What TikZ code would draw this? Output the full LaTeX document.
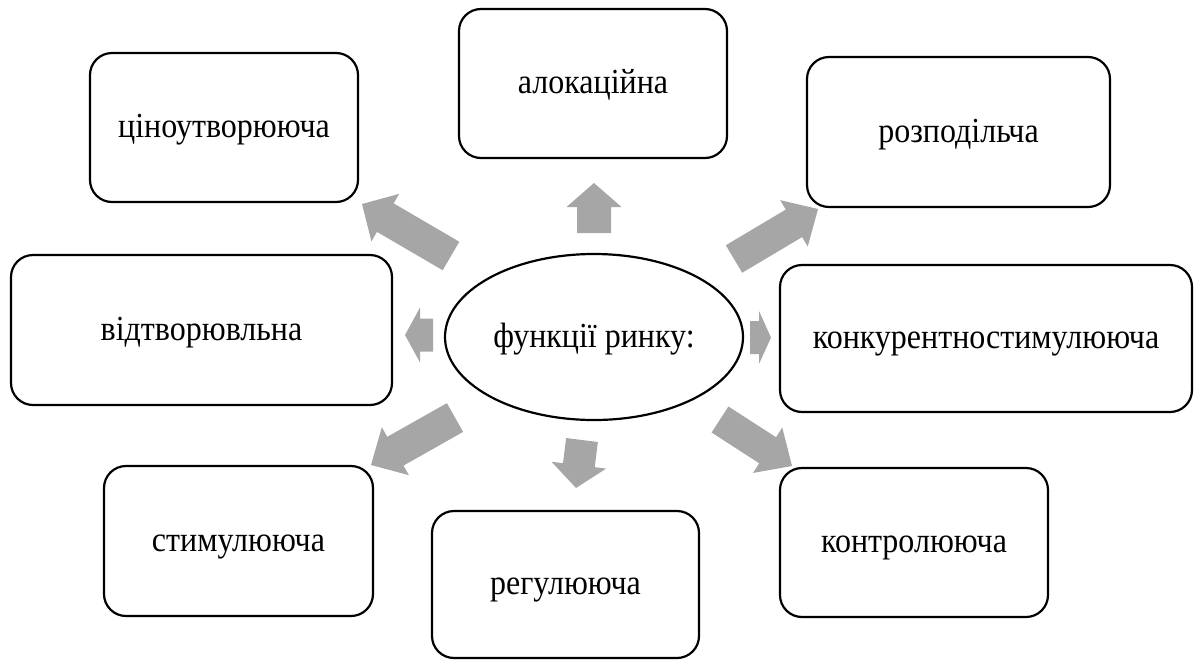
\documentclass[tikz,border=0pt]{standalone}
\usepackage{fontspec}
\usepackage{graphicx}
\setmainfont{Liberation Serif}
\usetikzlibrary{calc,shapes.geometric}
\definecolor{arrowgray}{RGB}{166,166,166}
\newcommand{\tallt}[1]{\scalebox{1}[1.1]{#1}}
\tikzset{
  fbox/.style={draw=black, line width=2.2pt, rounded corners=22pt, inner sep=0pt,
    text height=20pt, text depth=0pt, font=\fontsize{32}{38}\selectfont},
  fell/.style={draw=black, line width=2.2pt, ellipse, inner sep=0pt,
    text height=20pt, text depth=0pt, font=\fontsize{32}{38}\selectfont},
  blockarrow/.style={fill=arrowgray, draw=none}
}
\newcommand{\blockarr}[5]{% tail, tip, half shaft, half head, head length
  \fill[blockarrow]
    ($(#1)!#3!90:(#2)$) --
    ($($(#2)!#5!(#1)$)!#3!-90:(#1)$) --
    ($($(#2)!#5!(#1)$)!#4!-90:(#1)$) --
    (#2) --
    ($($(#2)!#5!(#1)$)!#4!90:(#1)$) --
    ($($(#2)!#5!(#1)$)!#3!90:(#1)$) --
    ($(#1)!#3!-90:(#2)$) -- cycle;
}
\begin{document}
\begin{tikzpicture}[x=1pt, y=-1pt]
\useasboundingbox (0,0) rectangle (1194,659);
% boxes
\node[fbox, minimum width=268pt, minimum height=149pt] (cin) at (224,127.5) {\tallt{ціноутворююча}};
\node[fbox, minimum width=268pt, minimum height=149pt] (alok) at (593,83.5) {\tallt{алокаційна}};
\node[fbox, minimum width=303pt, minimum height=150pt] (rozp) at (958.5,132) {\tallt{розподільча}};
\node[fbox, minimum width=381pt, minimum height=150pt] (vidt) at (201.5,330) {\tallt{відтворювльна}};
\node[fbox, minimum width=412pt, minimum height=147pt] (konk) at (986,338.5) {\tallt{конкурентностимулююча}};
\node[fbox, minimum width=269pt, minimum height=150pt] (stym) at (238.5,541) {\tallt{стимулююча}};
\node[fbox, minimum width=267pt, minimum height=147pt] (reg) at (565.5,584.5) {\tallt{регулююча}};
\node[fbox, minimum width=268pt, minimum height=149pt] (kontr) at (914,542.5) {\tallt{контролююча}};
% centre
\node[fell, minimum width=298pt, minimum height=166pt] (centre) at (594,337) {\tallt{функції ринку:}};
% arrow end points
\coordinate (aU0) at (594,233);   \coordinate (aU1) at (594,183);
\coordinate (aNE0) at (734,259);  \coordinate (aNE1) at (818,209);
\coordinate (aNW0) at (451,256);  \coordinate (aNW1) at (362,204);
\coordinate (aL0) at (433,335);   \coordinate (aL1) at (405,335);
\coordinate (aR0) at (750,337.5); \coordinate (aR1) at (771,337.5);
\coordinate (aSW0) at (455,417.5);\coordinate (aSW1) at (371,465);
\coordinate (aD0) at (582,440);   \coordinate (aD1) at (576,488);
\coordinate (aSE0) at (720,419.5);\coordinate (aSE1) at (792,466);
% arrows
\blockarr{aU0}{aU1}{17pt}{27.5pt}{24pt}
\blockarr{aNE0}{aNE1}{16pt}{27pt}{28pt}
\blockarr{aNW0}{aNW1}{16.5pt}{27.5pt}{27pt}
\blockarr{aL0}{aL1}{16.5pt}{27.5pt}{15pt}
\blockarr{aR0}{aR1}{16.5pt}{26.5pt}{12pt}
\blockarr{aSW0}{aSW1}{16.5pt}{27.5pt}{28pt}
\blockarr{aD0}{aD1}{16pt}{27.5pt}{23pt}
\blockarr{aSE0}{aSE1}{15.5pt}{27pt}{29pt}
\end{tikzpicture}
\end{document}
